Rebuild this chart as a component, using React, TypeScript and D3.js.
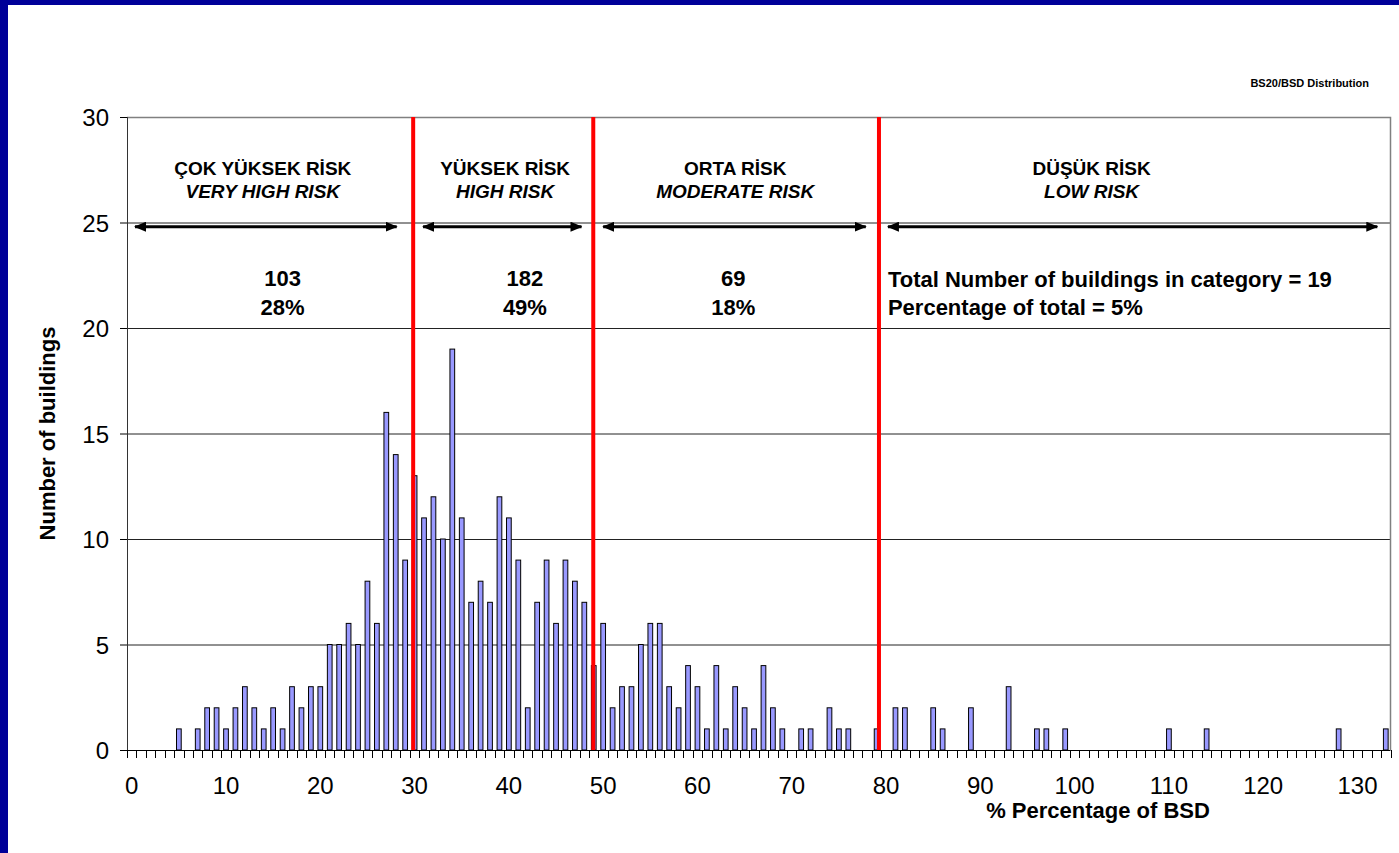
import { useEffect, useRef } from "react";
import * as d3 from "d3";

// % of BSD (category index) -> number of buildings
const counts = [
  0, 0, 0, 0, 0, 1, 0, 1, 2, 2,
  1, 2, 3, 2, 1, 2, 1, 3, 2, 3,
  3, 5, 5, 6, 5, 8, 6, 16, 14, 9,
  13, 11, 12, 10, 19, 11, 7, 8, 7, 12,
  11, 9, 2, 7, 9, 6, 9, 8, 7, 4,
  6, 2, 3, 3, 5, 6, 6, 3, 2, 4,
  3, 1, 4, 1, 3, 2, 1, 4, 2, 1,
  0, 1, 1, 0, 2, 1, 1, 0, 0, 1,
  0, 2, 2, 0, 0, 2, 1, 0, 0, 2,
  0, 0, 0, 3, 0, 0, 1, 1, 0, 1,
  0, 0, 0, 0, 0, 0, 0, 0, 0, 0,
  1, 0, 0, 0, 1, 0, 0, 0, 0, 0,
  0, 0, 0, 0, 0, 0, 0, 0, 1, 0,
  0, 0, 0, 1,
];
const xTickLabels = [0, 10, 20, 30, 40, 50, 60, 70, 80, 90, 100, 110, 120, 130];
const yTickLabels = [0, 5, 10, 15, 20, 25, 30];

// risk thresholds (red lines), in axis units
const thresholds = [29.85, 48.95, 79.25];
// arrow spans, in axis units
const arrowSpans = [
  [0.35, 28.1],
  [30.9, 47.7],
  [50.0, 77.85],
  [80.2, 132.1],
];
const riskTr = ["ÇOK YÜKSEK RİSK", "YÜKSEK RİSK", "ORTA RİSK", "DÜŞÜK RİSK"];
const riskEn = ["VERY HIGH RISK", "HIGH RISK", "MODERATE RISK", "LOW RISK"];
const riskLabelX = [13.9, 39.6, 64.0, 101.8];
const riskCounts = ["103", "182", "69"];
const riskPercents = ["28%", "49%", "18%"];
const riskCountX = [16.0, 41.7, 63.8];
const lowRiskLines = [
  "Total Number of buildings in category = 19",
  "Percentage of total = 5%",
];

const W = 1399;
const H = 853;
const FONT = "'Liberation Sans', Arial, sans-serif";

function App() {
  const svgRef = useRef<SVGSVGElement>(null);

  useEffect(() => {
    buildChart();
  }, []);

  const buildChart = () => {
    const svg = d3.select(svgRef.current);
    svg.selectAll("*").remove();

    const left = 127;
    const right = 1390.5;
    const top = 117;
    const bottom = 750;

    const cats = counts.map((_, i) => i);
    const xBand = d3.scaleBand<number>().domain(cats).range([left, right]);
    const xLin = d3
      .scaleLinear()
      .domain([-0.5, counts.length - 0.5])
      .range([left, right]);
    const y = d3.scaleLinear().domain([0, 30]).range([bottom, top]);

    // navy frame
    svg.append("rect").attr("width", W).attr("height", H).attr("fill", "#000099");
    svg
      .append("rect")
      .attr("x", 8)
      .attr("y", 5)
      .attr("width", W - 8)
      .attr("height", H - 5)
      .attr("fill", "#fff");

    svg
      .append("text")
      .attr("x", 1369)
      .attr("y", 87)
      .attr("text-anchor", "end")
      .attr("font-family", FONT)
      .attr("font-weight", "bold")
      .attr("font-size", 11)
      .text("BS20/BSD Distribution");

    // gridlines
    svg
      .append("g")
      .selectAll("line")
      .data(yTickLabels.slice(1))
      .enter()
      .append("line")
      .attr("x1", left)
      .attr("x2", right)
      .attr("y1", (d) => y(d) + 0.5)
      .attr("y2", (d) => y(d) + 0.5)
      .attr("stroke", "#222")
      .attr("stroke-width", 1);

    // plot border
    svg
      .append("path")
      .attr("d", `M${left},${top + 0.5}H${right}V${bottom}`)
      .attr("fill", "none")
      .attr("stroke", "#808080")
      .attr("stroke-width", 1.5);

    // bars
    const bw = xBand.bandwidth() * 0.5;
    svg
      .append("g")
      .selectAll("rect")
      .data(counts.map((v, i) => ({ i, v })).filter((d) => d.v > 0))
      .enter()
      .append("rect")
      .attr("x", (d) => (xBand(d.i) as number) + (xBand.bandwidth() - bw) / 2)
      .attr("y", (d) => y(d.v))
      .attr("width", bw)
      .attr("height", (d) => bottom - y(d.v))
      .attr("fill", "#9999ff")
      .attr("stroke", "#000")
      .attr("stroke-width", 1);

    // axes lines
    svg
      .append("line")
      .attr("x1", left)
      .attr("x2", right)
      .attr("y1", bottom + 0.5)
      .attr("y2", bottom + 0.5)
      .attr("stroke", "#000");
    svg
      .append("line")
      .attr("x1", left + 0.5)
      .attr("x2", left + 0.5)
      .attr("y1", top)
      .attr("y2", bottom)
      .attr("stroke", "#333");

    // x ticks at category boundaries
    const bounds = [...cats.map((c) => xBand(c) as number), right];
    svg
      .append("g")
      .selectAll("line")
      .data(bounds)
      .enter()
      .append("line")
      .attr("x1", (d) => Math.round(d) + 0.5)
      .attr("x2", (d) => Math.round(d) + 0.5)
      .attr("y1", bottom)
      .attr("y2", bottom + 8)
      .attr("stroke", "#000");

    // y ticks
    svg
      .append("g")
      .selectAll("line")
      .data(yTickLabels)
      .enter()
      .append("line")
      .attr("x1", left - 7)
      .attr("x2", left)
      .attr("y1", (d) => y(d) + 0.5)
      .attr("y2", (d) => y(d) + 0.5)
      .attr("stroke", "#000");

    svg
      .append("g")
      .selectAll("text")
      .data(yTickLabels)
      .enter()
      .append("text")
      .attr("x", 109)
      .attr("y", (d) => y(d) + 9)
      .attr("text-anchor", "end")
      .attr("font-family", FONT)
      .attr("font-size", 24)
      .text((d) => d);

    svg
      .append("g")
      .selectAll("text")
      .data(xTickLabels)
      .enter()
      .append("text")
      .attr("x", (d) => (xBand(d) as number) + xBand.bandwidth() / 2)
      .attr("y", 794)
      .attr("text-anchor", "middle")
      .attr("font-family", FONT)
      .attr("font-size", 24)
      .text((d) => d);

    // axis titles
    svg
      .append("text")
      .attr("x", 1098)
      .attr("y", 818)
      .attr("text-anchor", "middle")
      .attr("font-family", FONT)
      .attr("font-weight", "bold")
      .attr("font-size", 22)
      .text("% Percentage of BSD");
    svg
      .append("text")
      .attr("transform", `translate(55,${(top + bottom) / 2}) rotate(-90)`)
      .attr("text-anchor", "middle")
      .attr("font-family", FONT)
      .attr("font-weight", "bold")
      .attr("font-size", 22)
      .text("Number of buildings");

    // threshold lines
    svg
      .append("g")
      .selectAll("line")
      .data(thresholds)
      .enter()
      .append("line")
      .attr("x1", (d) => xLin(d))
      .attr("x2", (d) => xLin(d))
      .attr("y1", top)
      .attr("y2", bottom)
      .attr("stroke", "#ff0000")
      .attr("stroke-width", 4);

    // arrows
    const defs = svg.append("defs");
    defs
      .append("marker")
      .attr("id", "ahead")
      .attr("markerUnits", "userSpaceOnUse")
      .attr("viewBox", "0 0 12 10")
      .attr("refX", 11)
      .attr("refY", 5)
      .attr("markerWidth", 12)
      .attr("markerHeight", 10)
      .attr("orient", "auto-start-reverse")
      .append("path")
      .attr("d", "M0,0L12,5L0,10Z")
      .attr("fill", "#000");

    const ay = y(24.8);
    svg
      .append("g")
      .selectAll("line")
      .data(arrowSpans)
      .enter()
      .append("line")
      .attr("x1", (d) => xLin(d[0]))
      .attr("x2", (d) => xLin(d[1]))
      .attr("y1", ay)
      .attr("y2", ay)
      .attr("stroke", "#000")
      .attr("stroke-width", 3)
      .attr("marker-start", "url(#ahead)")
      .attr("marker-end", "url(#ahead)");

    // risk labels
    const labels = svg.append("g").attr("font-family", FONT).attr("font-weight", "bold");
    riskTr.forEach((t, i) => {
      labels
        .append("text")
        .attr("x", xLin(riskLabelX[i]))
        .attr("y", 175)
        .attr("text-anchor", "middle")
        .attr("font-size", 19)
        .text(t);
      labels
        .append("text")
        .attr("x", xLin(riskLabelX[i]))
        .attr("y", 198)
        .attr("text-anchor", "middle")
        .attr("font-size", 19)
        .attr("font-style", "italic")
        .text(riskEn[i]);
    });
    riskCounts.forEach((c, i) => {
      labels
        .append("text")
        .attr("x", xLin(riskCountX[i]))
        .attr("y", 286)
        .attr("text-anchor", "middle")
        .attr("font-size", 22)
        .text(c);
      labels
        .append("text")
        .attr("x", xLin(riskCountX[i]))
        .attr("y", 315)
        .attr("text-anchor", "middle")
        .attr("font-size", 22)
        .text(riskPercents[i]);
    });
    lowRiskLines.forEach((t, i) => {
      labels
        .append("text")
        .attr("x", xLin(80.2))
        .attr("y", 287 + i * 28)
        .attr("font-size", 22)
        .text(t);
    });
  };

  return (
    <div style={{ position: "fixed", left: 0, top: 0, width: W, height: H }}>
      <svg ref={svgRef} width={W} height={H} style={{ display: "block" }}></svg>
    </div>
  );
}

export default App;
